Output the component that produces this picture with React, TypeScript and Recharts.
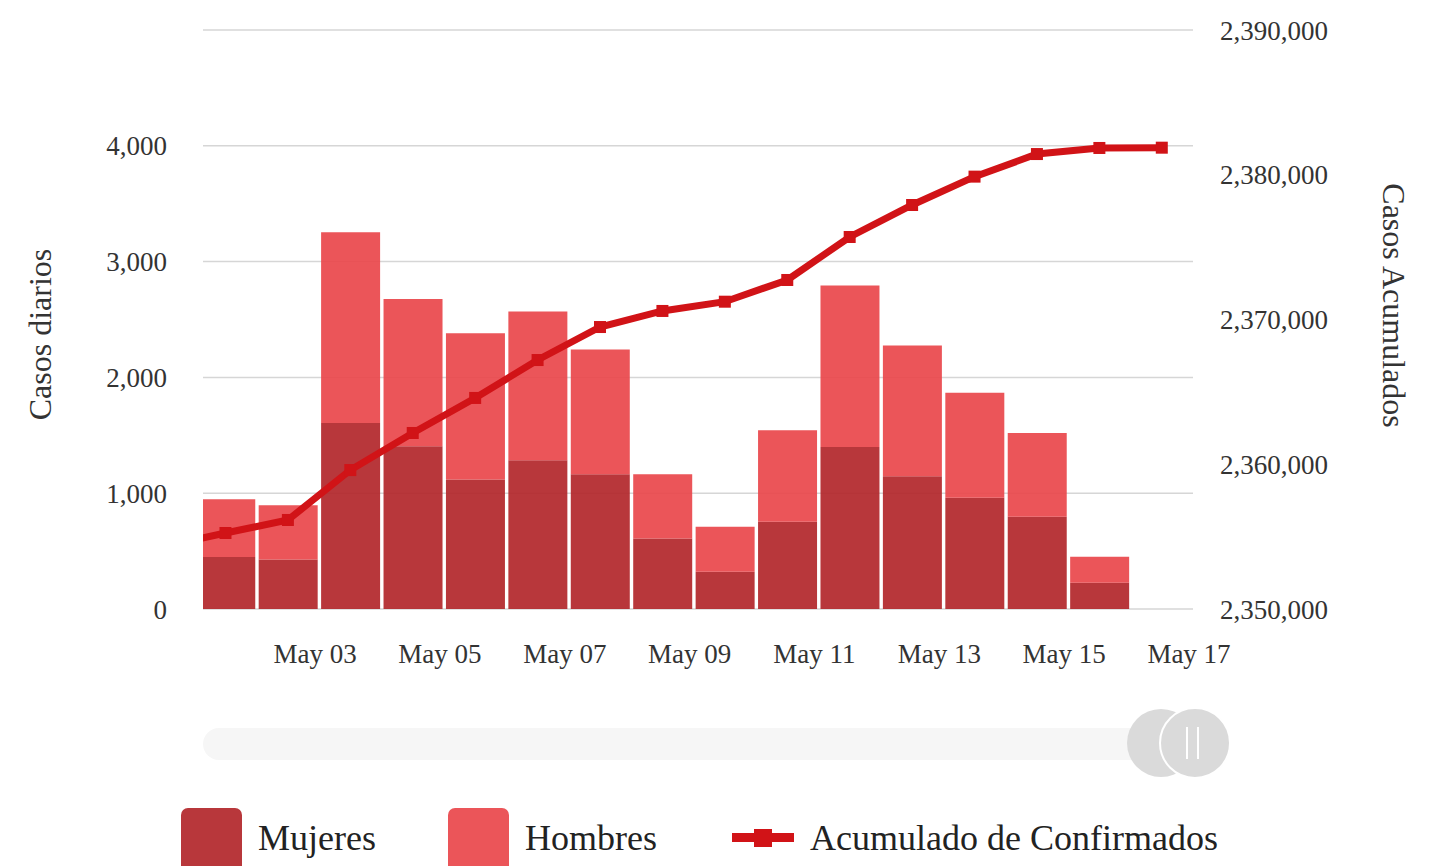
import React from 'react';
import { ComposedChart, Bar, Line, XAxis, YAxis, CartesianGrid } from 'recharts';

// day of May (0 = Apr 30, only used by the cumulative line, clipped at the left edge)
const dayOfMay = [0, 1, 2, 3, 4, 5, 6, 7, 8, 9, 10, 11, 12, 13, 14, 15, 16];
const mujeres = [null, 450, 428, 1606, 1405, 1118, 1284, 1164, 609, 322, 753, 1399, 1147, 960, 796, 227, null];
const hombres = [null, 498, 469, 1647, 1273, 1264, 1285, 1077, 555, 388, 790, 1394, 1129, 908, 724, 224, null];
const acumulado = [
  2354300, 2355250, 2356150, 2359600, 2362160, 2364580, 2367200, 2369480, 2370590,
  2371230, 2372730, 2375700, 2377910, 2379870, 2381430, 2381850, 2381870,
];

const xTicks = [3, 5, 7, 9, 11, 13, 15, 17];
const leftTicks = [0, 1000, 2000, 3000, 4000, 5000];
const rightTicks = [2350000, 2360000, 2370000, 2380000, 2390000];

const COLOR_MUJERES = '#b2262a';
const COLOR_HOMBRES = '#e9464b';
const COLOR_LINE = '#d11317';
const FONT = '"Liberation Serif", "Times New Roman", serif';

const data = dayOfMay.map((d, i) => ({
  x: d + 0.5,
  mujeres: mujeres[i],
  hombres: hombres[i],
  acumulado: acumulado[i],
}));

const fmt = (v: number) => v.toLocaleString('en-US');

const SquareDot = (props: any) => {
  const { cx, cy, index } = props;
  if (cx == null || cy == null) return <g key={index} />;
  return <rect key={index} x={cx - 6} y={cy - 6} width={12} height={12} fill={COLOR_LINE} />;
};

const LegendItem: React.FC<{ kind: 'box' | 'line'; color: string; label: string; left: number }> = ({ kind, color, label, left }) => (
  <div style={{ position: 'absolute', left, top: 806, height: 64, display: 'flex', alignItems: 'center' }}>
    {kind === 'box' ? (
      <div style={{ width: 61, height: 64, background: color, opacity: 0.92, borderRadius: 7, marginTop: 4 }} />
    ) : (
      <div style={{ position: 'relative', width: 62, height: 20 }}>
        <div style={{ position: 'absolute', left: 0, top: 5, width: 62, height: 9, background: color }} />
        <div style={{ position: 'absolute', left: 22, top: 1, width: 18, height: 18, background: color }} />
      </div>
    )}
    <span style={{ marginLeft: 16, fontFamily: FONT, fontSize: 36, color: '#222', whiteSpace: 'nowrap' }}>{label}</span>
  </div>
);

export default function App() {
  return (
    <div style={{ position: 'absolute', left: 0, top: 0, width: 1446, height: 866, overflow: 'hidden', background: '#fff' }}>
      <ComposedChart
        width={1446}
        height={866}
        data={data}
        margin={{ top: 30, right: 53, left: 0, bottom: 217 }}
        style={{ fontFamily: FONT }}
      >
        <CartesianGrid yAxisId="left" vertical={false} stroke="#d6d6d6" strokeWidth={1.5} />
        <XAxis
          dataKey="x"
          type="number"
          domain={[1.14, 17]}
          allowDataOverflow
          ticks={xTicks}
          interval={0}
          tickFormatter={(v: number) => `May ${String(v).padStart(2, '0')}`}
          axisLine={false}
          tickLine={false}
          tickSize={0}
          tickMargin={35}
          height={40}
          tick={{ fill: '#333', fontSize: 27, dx: -4 }}
        />
        <YAxis
          yAxisId="left"
          orientation="left"
          domain={[0, 5000]}
          ticks={leftTicks}
          interval={0}
          tickFormatter={(v: number) => (v === 5000 ? '' : fmt(v))}
          axisLine={false}
          tickLine={false}
          tickSize={0}
          tickMargin={36}
          width={203}
          tick={{ fill: '#333', fontSize: 27 }}
          label={{ value: 'Casos diarios', angle: -90, position: 'center', dx: -62, dy: 15, fill: '#333', fontSize: 32 }}
        />
        <YAxis
          yAxisId="right"
          orientation="right"
          domain={[2350000, 2390000]}
          ticks={rightTicks}
          interval={0}
          tickFormatter={fmt}
          axisLine={false}
          tickLine={false}
          tickSize={0}
          tickMargin={27}
          width={200}
          tick={{ fill: '#333', fontSize: 27 }}
          label={{ value: 'Casos Acumulados', angle: 90, position: 'center', dx: 101, dy: -14, fill: '#333', fontSize: 32 }}
        />
        <Bar yAxisId="left" dataKey="mujeres" name="Mujeres" stackId="s" barSize={59} fill={COLOR_MUJERES} fillOpacity={0.92} isAnimationActive={false} />
        <Bar yAxisId="left" dataKey="hombres" name="Hombres" stackId="s" barSize={59} fill={COLOR_HOMBRES} fillOpacity={0.92} isAnimationActive={false} />
        <Line
          yAxisId="right"
          dataKey="acumulado"
          name="Acumulado de Confirmados"
          type="linear"
          stroke={COLOR_LINE}
          strokeWidth={7}
          dot={<SquareDot />}
          activeDot={false}
          isAnimationActive={false}
        />
      </ComposedChart>

      {/* scrollbar */}
      <div style={{ position: 'absolute', left: 203, top: 728, width: 960, height: 32, borderRadius: 16, background: '#f6f6f6' }} />
      <div style={{ position: 'absolute', left: 1127, top: 709, width: 68, height: 68, borderRadius: '50%', background: '#dadada' }} />
      <div style={{ position: 'absolute', left: 1159, top: 707, width: 68, height: 68, borderRadius: '50%', background: '#dadada', border: '2px solid #fff' }} />
      <div style={{ position: 'absolute', left: 1186, top: 727, width: 2, height: 32, background: '#fff' }} />
      <div style={{ position: 'absolute', left: 1197, top: 727, width: 2, height: 32, background: '#fff' }} />

      <LegendItem kind="box" color={COLOR_MUJERES} label="Mujeres" left={181} />
      <LegendItem kind="box" color={COLOR_HOMBRES} label="Hombres" left={448} />
      <LegendItem kind="line" color={COLOR_LINE} label="Acumulado de Confirmados" left={732} />
    </div>
  );
}
